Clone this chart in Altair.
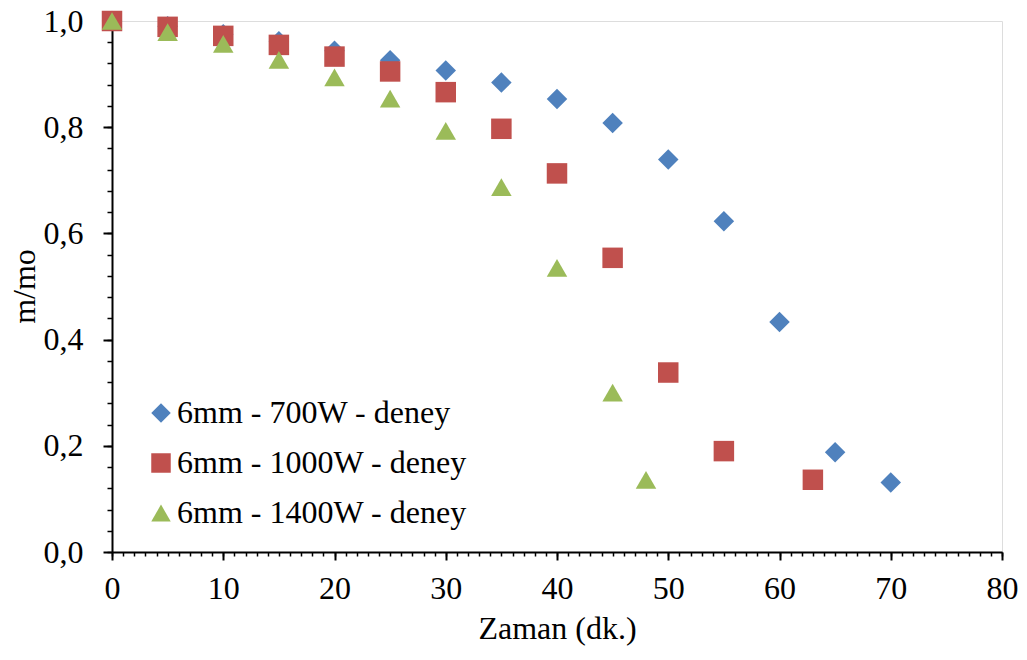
import altair as alt
import pandas as pd

series_names = ["6mm - 700W - deney", "6mm - 1000W - deney", "6mm - 1400W - deney"]

t_700 = [0, 5, 10, 15, 20, 25, 30, 35, 40, 45, 50, 55, 60, 65, 70]
m_700 = [1.0, 0.99, 0.975, 0.962, 0.944, 0.926, 0.907, 0.884, 0.853, 0.808, 0.739, 0.623, 0.433, 0.188, 0.131]

t_1000 = [0, 5, 10, 15, 20, 25, 30, 35, 40, 45, 50, 55, 63]
m_1000 = [1.0, 0.989, 0.972, 0.955, 0.933, 0.905, 0.866, 0.797, 0.713, 0.554, 0.338, 0.19, 0.136]

t_1400 = [0, 5, 10, 15, 20, 25, 30, 35, 40, 45, 48]
m_1400 = [1.0, 0.979, 0.957, 0.927, 0.894, 0.854, 0.793, 0.687, 0.535, 0.300, 0.136]

x_major = list(range(0, 81, 10))
x_minor = list(range(0, 81, 1))
y_major = [round(i * 0.2, 1) for i in range(6)]
y_minor = [round(i * 0.04, 2) for i in range(26)]

rows = []
for name, ts, ms in zip(series_names, [t_700, t_1000, t_1400], [m_700, m_1000, m_1400]):
    for t, m in zip(ts, ms):
        rows.append({"Seri": name, "t": t, "m": m})
df = pd.DataFrame(rows)

FONT = "'Liberation Serif', 'Times New Roman', Times, serif"
FS = 32
colors = ["#4F81BD", "#C0504D", "#9BBB59"]
shapes = ["diamond", "square", "triangle-up"]

x_scale = alt.Scale(domain=[0, 80], nice=False, zero=False)
y_scale = alt.Scale(domain=[0, 1], nice=False)

x_axis = alt.Axis(
    orient="bottom", values=x_major, grid=False,
    domainColor="black", domainWidth=2,
    tickColor="black", tickWidth=2, tickSize=8,
    labelFont=FONT, labelFontSize=FS, labelColor="black", labelPadding=13,
    labelFlush=False, labelOverlap=False,
    title="Zaman (dk.)", titleFont=FONT, titleFontSize=FS, titleFontWeight="normal",
    titleColor="black", titlePadding=9,
)
y_axis = alt.Axis(
    orient="left", values=y_major, grid=False,
    labelExpr="replace(format(datum.value, '.1f'), '.', ',')",
    domainColor="black", domainWidth=2,
    tickColor="black", tickWidth=2, tickSize=9,
    labelFont=FONT, labelFontSize=FS, labelColor="black", labelPadding=20,
    labelFlush=False, labelOverlap=False,
    title="m/mo", titleFont=FONT, titleFontSize=FS, titleFontWeight="normal",
    titleColor="black", titleX=-88, titleY=265, titleAngle=-90,
    titleAlign="center", titleBaseline="middle",
)

x_axis_minor = alt.Axis(
    orient="bottom", values=x_minor, grid=False, labels=False, title=None,
    domain=False, tickColor="black", tickWidth=1.5, tickSize=4,
)
y_axis_minor = alt.Axis(
    orient="left", values=y_minor, grid=False, labels=False, title=None,
    domain=False, tickColor="black", tickWidth=1.5, tickSize=5,
)

points = alt.Chart(df).mark_point(filled=True, opacity=1, size=420).encode(
    x=alt.X("t:Q", scale=x_scale, axis=x_axis),
    y=alt.Y("m:Q", scale=y_scale, axis=y_axis),
    color=alt.Color("Seri:N", scale=alt.Scale(domain=series_names, range=colors),
                    legend=alt.Legend(
                        title=None, orient="none", legendX=33, legendY=376,
                        labelFont=FONT, labelFontSize=FS, labelColor="black",
                        labelLimit=0,
                        symbolSize=380, symbolOpacity=1, rowPadding=18,
                        labelOffset=0, symbolStrokeWidth=0)),
    shape=alt.Shape("Seri:N", scale=alt.Scale(domain=series_names, range=shapes), legend=None),
)

minor = alt.Chart(df).mark_point(opacity=0).encode(
    x=alt.X("t:Q", scale=x_scale, axis=x_axis_minor),
    y=alt.Y("m:Q", scale=y_scale, axis=y_axis_minor),
)

chart = alt.layer(minor, points).resolve_axis(
    x="independent", y="independent"
).properties(
    width=890, height=531,
    autosize=alt.AutoSizeParams(type="none"),
    padding={"left": 104, "top": 13, "right": 17, "bottom": 95},
).configure_view(
    stroke="black", strokeWidth=1.5
).configure(background="white")

chart.save("out.html", embed_options={"renderer": "svg", "actions": False})
